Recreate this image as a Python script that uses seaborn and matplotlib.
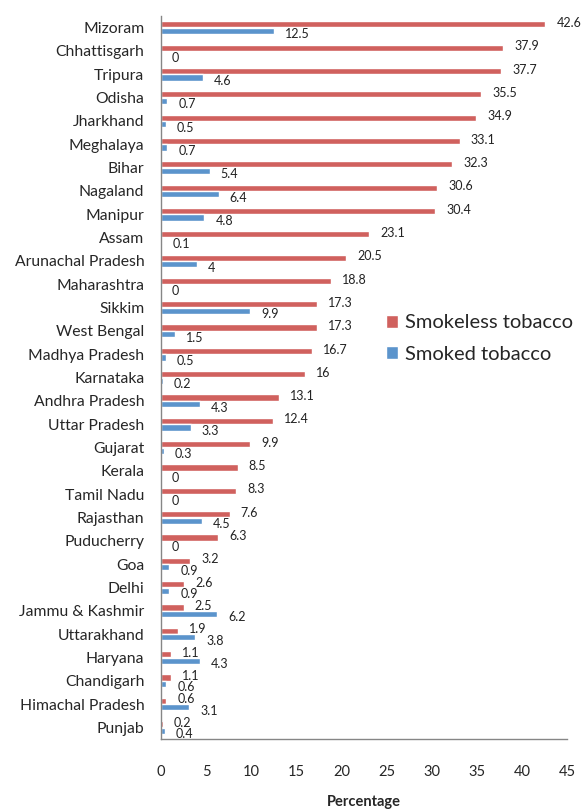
import matplotlib
matplotlib.use('Agg')
import matplotlib.pyplot as plt
import pandas as pd
import seaborn as sns

states = ['Mizoram', 'Chhattisgarh', 'Tripura', 'Odisha', 'Jharkhand', 'Meghalaya',
          'Bihar', 'Nagaland', 'Manipur', 'Assam', 'Arunachal Pradesh', 'Maharashtra',
          'Sikkim', 'West Bengal', 'Madhya Pradesh', 'Karnataka', 'Andhra Pradesh',
          'Uttar Pradesh', 'Gujarat', 'Kerala', 'Tamil Nadu', 'Rajasthan', 'Puducherry',
          'Goa', 'Delhi', 'Jammu & Kashmir', 'Uttarakhand', 'Haryana', 'Chandigarh',
          'Himachal Pradesh', 'Punjab']
smokeless = [42.6, 37.9, 37.7, 35.5, 34.9, 33.1, 32.3, 30.6, 30.4, 23.1, 20.5, 18.8,
             17.3, 17.3, 16.7, 16, 13.1, 12.4, 9.9, 8.5, 8.3, 7.6, 6.3, 3.2, 2.6, 2.5,
             1.9, 1.1, 1.1, 0.6, 0.2]
smoked = [12.5, 0, 4.6, 0.7, 0.5, 0.7, 5.4, 6.4, 4.8, 0.1, 4, 0, 9.9, 1.5, 0.5, 0.2,
          4.3, 3.3, 0.3, 0, 0, 4.5, 0, 0.9, 0.9, 6.2, 3.8, 4.3, 0.6, 3.1, 0.4]
series = ['Smokeless tobacco', 'Smoked tobacco']
colors = ['#D0615E', '#5B94CC']

df = pd.DataFrame({
    'state': states * 2,
    'value': smokeless + smoked,
    'type': [series[0]] * len(states) + [series[1]] * len(states),
})

sns.set_style('white')
plt.rcParams['font.family'] = ['Lato', 'DejaVu Sans']

fig = plt.figure(figsize=(5.85, 8.09), dpi=100)
ax = fig.add_axes([161 / 585, 1 - 739 / 809, 406 / 585, 723 / 809])

sns.barplot(data=df, x='value', y='state', hue='type', order=states,
            hue_order=series, palette=colors, orient='h', width=0.56,
            gap=0.05, saturation=1, ax=ax, legend=True)

# value labels: red ones nudged up, blue ones nudged down (Excel style)
for cont, vals, dy in zip(ax.containers, [smokeless, smoked], [1, -2.5]):
    anns = ax.bar_label(cont, labels=[f'{v:g}' for v in vals], padding=8,
                        fontsize=9, color='#222222')
    for a in anns:
        a.xyann = (8, dy)

ax.set_xlim(0, 45)
ax.set_ylim(len(states) - 0.5, -0.5)
ax.set_xticks(range(0, 46, 5))
ax.set_yticks(range(len(states)))
ax.set_yticks([i - 0.5 for i in range(len(states) + 1)], minor=True)
ax.tick_params(axis='y', which='major', length=0, pad=12, labelsize=11.3)
ax.tick_params(axis='y', which='minor', length=5, color='#868686', width=1)
ax.tick_params(axis='x', length=5, color='#868686', width=1, pad=14, labelsize=10.5,
               direction='out')
ax.set_xlabel('Percentage', fontsize=10.5, fontweight='bold', labelpad=11)
ax.set_ylabel('')

sns.despine(ax=ax)
for side in ['left', 'bottom']:
    ax.spines[side].set_color('#868686')
    ax.spines[side].set_linewidth(1)

handles, labels = ax.get_legend_handles_labels()
ax.legend(handles, labels, frameon=False, loc='center left',
          bbox_to_anchor=(386 / 585, 1 - 338.5 / 809), bbox_transform=fig.transFigure,
          fontsize=14.5, handlelength=0.6, handleheight=0.6, handletextpad=0.35,
          labelspacing=0.7, borderpad=0, borderaxespad=0)

fig.savefig('out.png', dpi=100)
